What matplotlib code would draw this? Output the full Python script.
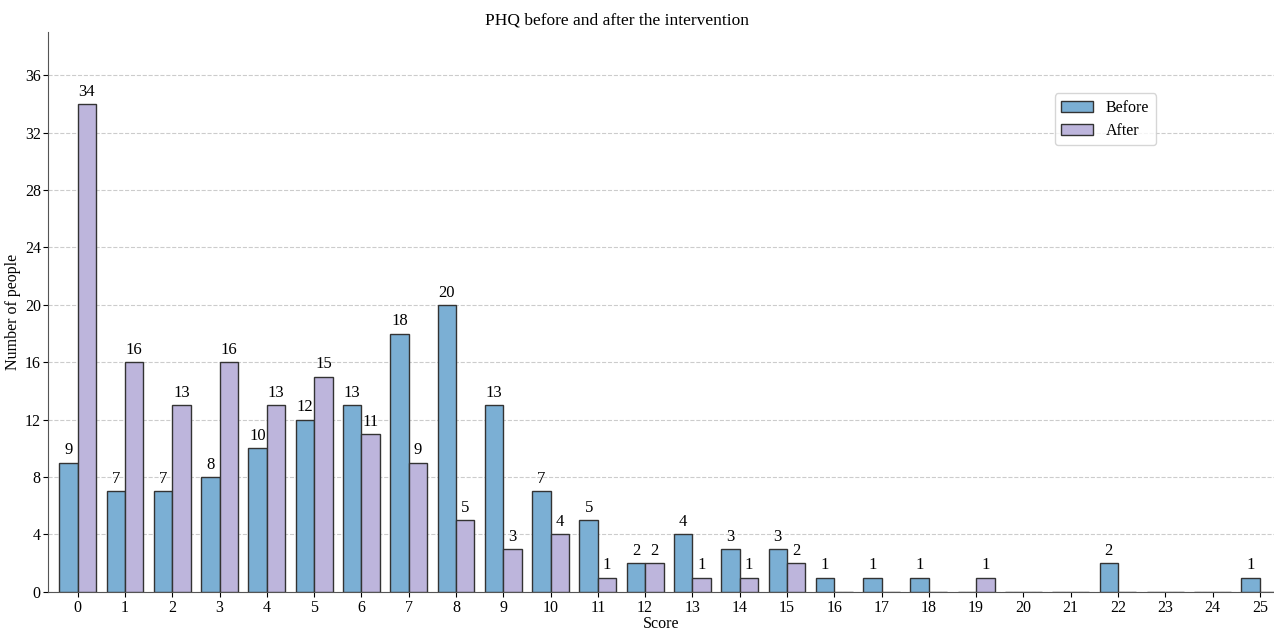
import numpy as np
import matplotlib.pyplot as plt

plt.rcParams['font.family'] = ['Liberation Serif', 'DejaVu Serif']

scores = list(range(26))
before = [9, 7, 7, 8, 10, 12, 13, 18, 20, 13, 7, 5, 2, 4, 3, 3, 1, 1, 1, 0, 0, 0, 2, 0, 0, 1]
after = [34, 16, 13, 16, 13, 15, 11, 9, 5, 3, 4, 1, 2, 1, 1, 2, 0, 0, 0, 1, 0, 0, 0, 0, 0, 0]

fig = plt.figure(figsize=(12.74, 6.31), dpi=100)
ax = fig.add_axes([0.038, 0.062, 0.962, 0.887])

x = np.array(scores)
w = 0.39
b1 = ax.bar(x - w / 2, before, w, color='#7bafd4', edgecolor='#333333', linewidth=1, label='Before', zorder=3)
b2 = ax.bar(x + w / 2, after, w, color='#bdb5dc', edgecolor='#333333', linewidth=1, label='After', zorder=3)

for bars, vals in [(b1, before), (b2, after)]:
    for r, v in zip(bars, vals):
        if v > 0:
            ax.text(r.get_x() + r.get_width() / 2, v + 0.3, str(v), ha='center', va='bottom', fontsize=12)

ax.set_xlim(-0.62, 25.3)
ax.set_ylim(0, 39)
ax.set_xticks(scores)
ax.set_yticks(range(0, 37, 4))
ax.tick_params(labelsize=11.5, pad=2)
ax.grid(axis='y', linestyle='--', color='#cccccc', linewidth=0.8, zorder=0)
ax.spines['top'].set_visible(False)
ax.spines['right'].set_visible(False)
ax.spines['left'].set_color('#555555')
ax.spines['bottom'].set_color('#555555')

fig.text(0.484, 0.968, 'PHQ before and after the intervention', ha='center', va='center', fontsize=12.5)
ax.set_xlabel('Score', fontsize=11.5, labelpad=0)
ax.set_ylabel('Number of people', fontsize=11.5, labelpad=3)
ax.legend(loc='upper right', bbox_to_anchor=(0.91, 0.905), fontsize=11.5, labelspacing=0.45)

fig.savefig('out.png', dpi=100)
